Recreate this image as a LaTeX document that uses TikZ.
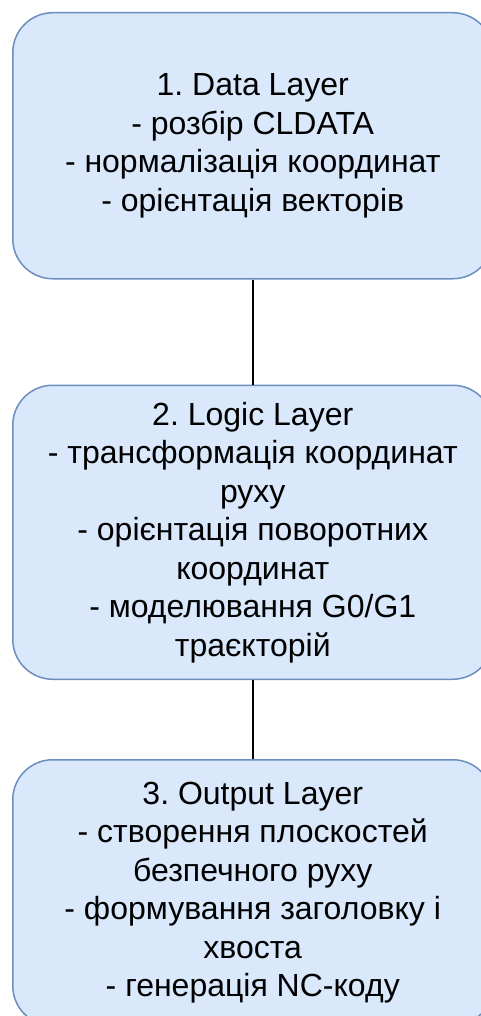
\documentclass[tikz,border=0pt]{standalone}
\usepackage{fontspec}
\setmainfont{Liberation Sans}
\frenchspacing
\usetikzlibrary{positioning}
\definecolor{layerfill}{HTML}{DAE8FC}
\definecolor{layerline}{HTML}{6C8EBF}
\tikzset{
  layer/.style={
    draw=layerline,
    fill=layerfill,
    rectangle,
    rounded corners=40pt,
    minimum width=480pt,
    line width=1.5pt,
    align=center,
    node font=\fontsize{32}{38.5}\selectfont,
  },
  link/.style={
    draw,
    black,
    line width=1.5pt,
  },
}

\begin{document}
\begin{tikzpicture}
  \useasboundingbox (0,0) rectangle (481pt,-1016pt);

  \node (data)   [layer,minimum height=266pt,anchor=north west] at (12pt,-12pt) {%
    1. Data Layer\\
    - розбір CLDATA\\
    - нормалізація координат\\
    - орієнтація векторів};
  \node (logic)  [layer,minimum height=294pt,below=105pt of data] {%
    2. Logic Layer\\
    - трансформація координат\\
    руху\\
    - орієнтація поворотних\\
    координат\\
    - моделювання G0/G1\\
    траєкторій};
  \node (output) [layer,minimum height=266pt,below=79pt of logic] {%
    3. Output Layer\\
    - створення плоскостей\\
    безпечного руху\\
    - формування заголовку і\\
    хвоста\\
    - генерація NC-коду};

  \path [link] (data) -- (logic);
  \path [link] (logic) -- (output);
\end{tikzpicture}
\end{document}
